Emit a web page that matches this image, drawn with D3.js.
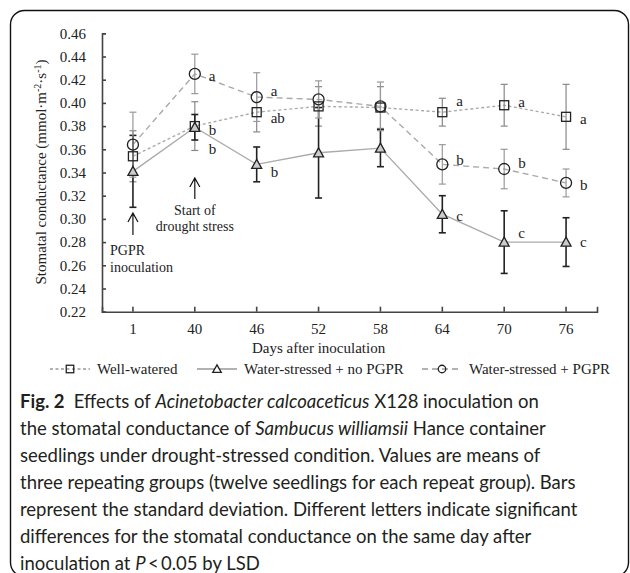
<!DOCTYPE html>
<html>
<head>
<meta charset="utf-8">
<script src="https://cdn.jsdelivr.net/npm/d3@7"></script>
<style>
  body { margin: 0; background: #fff; }
  svg { display: block; }
</style>
</head>
<body>
<script>
// days after inoculation (categories)
const days = ["1", "40", "46", "52", "58", "64", "70", "76"];

// means
const wellWatered     = [0.354, 0.380, 0.392, 0.397, 0.396, 0.392, 0.398, 0.388];
const stressedNoPGPR  = [0.341, 0.379, 0.347, 0.357, 0.361, 0.304, 0.280, 0.280];
const stressedPGPR    = [0.364, 0.425, 0.405, 0.403, 0.397, 0.347, 0.343, 0.331];

// standard deviations
const wellWateredSD    = [0.022, 0.021, 0.017, 0.017, 0.018, 0.012, 0.018, 0.028];
const stressedNoPGPRSD = [0.031, 0.011, 0.015, 0.039, 0.016, 0.016, 0.027, 0.021];
const stressedPGPRSD   = [0.028, 0.017, 0.021, 0.016, 0.021, 0.017, 0.017, 0.012];

// significance letters
const wellLetters   = ["", "b", "ab", "", "", "a", "a", "a"];
const noPGPRLetters = ["", "b", "b", "", "", "c", "c", "c"];
const pgprLetters   = ["", "a", "a", "", "", "b", "b", "b"];

const yTicks = [0.22, 0.24, 0.26, 0.28, 0.30, 0.32, 0.34, 0.36, 0.38, 0.40, 0.42, 0.44, 0.46];

// small vertical nudges so letters don't collide (px)
const wellNudge   = [0, 4, 6, 0, 0, -11, -3, 2];
const noPGPRNudge = [0, 21, 7, 0, 0, 1, -9, 0];
const pgprNudge   = [0, 2, -6, 0, 0, -5, -6, 2];

const W = 630, H = 573;
const serif = "'Liberation Serif', 'Times New Roman', serif";
const sans = "Lato, 'Open Sans', sans-serif";

const svg = d3.select("body").append("svg")
  .attr("width", W).attr("height", H);

// rounded frame
svg.append("rect")
  .attr("x", 10.5).attr("y", 10.5)
  .attr("width", 618).attr("height", 566)
  .attr("rx", 14)
  .attr("fill", "none")
  .attr("stroke", "#111")
  .attr("stroke-width", 1.4);

const x = d3.scaleBand().domain(days).range([102, 597]);
const y = d3.scaleLinear().domain([0.22, 0.46]).range([311.7, 33.3]);
const cx = d => x(d) + x.bandwidth() / 2;

// axes
const gx = svg.append("g")
  .attr("transform", "translate(0," + y(0.22) + ")")
  .call(d3.axisBottom(x).tickSizeInner(-5).tickSizeOuter(-5).tickPadding(12));
const gy = svg.append("g")
  .attr("transform", "translate(" + x.range()[0] + ",0)")
  .call(d3.axisLeft(y).tickValues(yTicks).tickFormat(d3.format(".2f"))
    .tickSizeInner(-4).tickSizeOuter(-4).tickPadding(16));

[gx, gy].forEach(g => {
  g.selectAll("path, line").attr("stroke", "#444").attr("stroke-width", 1.6);
  g.selectAll("text")
    .attr("font-family", serif)
    .attr("font-size", 15)
    .attr("fill", "#222");
});

// axis titles
svg.append("text")
  .attr("x", cx("52")).attr("y", 353)
  .attr("text-anchor", "middle")
  .attr("font-family", serif).attr("font-size", 15).attr("fill", "#222")
  .text("Days after inoculation");

const yt = svg.append("text")
  .attr("transform", "translate(46,172) rotate(-90)")
  .attr("text-anchor", "middle")
  .attr("font-family", serif).attr("font-size", 15).attr("fill", "#222");
yt.append("tspan").text("Stomatal conductance (mmol\u00b7m");
yt.append("tspan").attr("font-size", 10).attr("dy", -5).text("-2");
yt.append("tspan").attr("dy", 5).text("\u00b7s");
yt.append("tspan").attr("font-size", 10).attr("dy", -5).text("-1");
yt.append("tspan").attr("dy", 5).text(")");

const series = [
  { name: "Well-watered", vals: wellWatered, sd: wellWateredSD, letters: wellLetters, nudge: wellNudge,
    dash: "3,2.5", bar: "#888", shape: "square" },
  { name: "Water-stressed + no PGPR", vals: stressedNoPGPR, sd: stressedNoPGPRSD, letters: noPGPRLetters, nudge: noPGPRNudge,
    dash: null, bar: "#222", shape: "triangle" },
  { name: "Water-stressed + PGPR", vals: stressedPGPR, sd: stressedPGPRSD, letters: pgprLetters, nudge: pgprNudge,
    dash: "6,4", bar: "#999", shape: "circle" }
];

const line = d3.line().x(d => cx(d.day)).y(d => y(d.v));

// lines
series.forEach(s => {
  const pts = days.map((d, i) => ({ day: d, v: s.vals[i] }));
  svg.append("path")
    .datum(pts)
    .attr("d", line)
    .attr("fill", "none")
    .attr("stroke", "#aaa")
    .attr("stroke-width", 1.4)
    .attr("stroke-dasharray", s.dash);
});

// error bars
series.forEach(s => {
  const g = svg.append("g")
    .attr("stroke", s.bar)
    .attr("stroke-width", s.shape === "triangle" ? 1.6 : 1.2);
  days.forEach((d, i) => {
    const lo = y(s.vals[i] - s.sd[i]), hi = y(s.vals[i] + s.sd[i]), xx = cx(d);
    g.append("line").attr("x1", xx).attr("x2", xx).attr("y1", lo).attr("y2", hi);
    g.append("line").attr("x1", xx - 3.5).attr("x2", xx + 3.5).attr("y1", lo).attr("y2", lo);
    g.append("line").attr("x1", xx - 3.5).attr("x2", xx + 3.5).attr("y1", hi).attr("y2", hi);
  });
});

function marker(g, shape, px, py, size) {
  if (shape === "square") {
    g.append("rect")
      .attr("x", px - size / 2).attr("y", py - size / 2)
      .attr("width", size).attr("height", size)
      .attr("fill", "none").attr("stroke", "#222").attr("stroke-width", 1.3);
  } else if (shape === "circle") {
    g.append("circle")
      .attr("cx", px).attr("cy", py).attr("r", size / 2)
      .attr("fill", "none").attr("stroke", "#222").attr("stroke-width", 1.3);
  } else {
    const hw = size / 2 + 0.5;
    g.append("path")
      .attr("d", `M${px},${py - size * 0.55}L${px + hw},${py + size * 0.45}L${px - hw},${py + size * 0.45}Z`)
      .attr("fill", g.attr("data-fill") || "#ccc").attr("stroke", "#222").attr("stroke-width", 1.3);
  }
}

// markers + letters
series.forEach(s => {
  const g = svg.append("g");
  days.forEach((d, i) => marker(g, s.shape, cx(d), y(s.vals[i]), s.shape === "circle" ? 11 : 9));
  svg.append("g").selectAll("text")
    .data(days.map((d, i) => ({ d, i })).filter(o => s.letters[o.i]))
    .join("text")
    .attr("x", o => cx(o.d) + 14)
    .attr("y", o => y(s.vals[o.i]) + s.nudge[o.i])
    .attr("dy", "0.35em")
    .attr("font-family", serif).attr("font-size", 15).attr("fill", "#222")
    .text(o => s.letters[o.i]);
});

// annotations
function arrow(px, top, bottom) {
  svg.append("path")
    .attr("d", `M${px},${bottom}V${top}M${px - 5},${top + 9}L${px},${top}L${px + 5},${top + 9}`)
    .attr("fill", "none").attr("stroke", "#111").attr("stroke-width", 1.2);
}
arrow(cx("1"), 213, 235);
arrow(cx("40"), 178, 199);

const ann = svg.append("g")
  .attr("font-family", serif).attr("font-size", 14).attr("fill", "#222");
ann.append("text").attr("x", 110).attr("y", 255).text("PGPR");
ann.append("text").attr("x", 110).attr("y", 272).text("inoculation");
ann.append("text").attr("x", cx("40")).attr("y", 215).attr("text-anchor", "middle").text("Start of");
ann.append("text").attr("x", cx("40")).attr("y", 231).attr("text-anchor", "middle").text("drought stress");

// legend
const legendX = [50, 197, 422];
const leg = svg.append("g");
series.forEach((s, i) => {
  const lx = legendX[i], ly = 369;
  leg.append("line")
    .attr("x1", lx).attr("x2", lx + 40).attr("y1", ly).attr("y2", ly)
    .attr("stroke", "#999").attr("stroke-width", 1.3)
    .attr("stroke-dasharray", s.dash);
  const mg = leg.append("g").attr("data-fill", "#fff");
  marker(mg, s.shape, lx + 20, ly, 7.5);
  leg.append("text")
    .attr("x", lx + 47).attr("y", ly).attr("dy", "0.35em")
    .attr("font-family", serif).attr("font-size", 15).attr("fill", "#222")
    .text(s.name);
});

// caption
const capLines = [
  [["Fig. 2", "bold"], ["\u2002Effects of ", ""], ["Acinetobacter calcoaceticus", "italic"], [" X128 inoculation on", ""]],
  [["the stomatal conductance of ", ""], ["Sambucus williamsii", "italic"], [" Hance container", ""]],
  [["seedlings under drought-stressed condition. Values are means of", ""]],
  [["three repeating groups (twelve seedlings for each repeat group). Bars", ""]],
  [["represent the standard deviation. Different letters indicate significant", ""]],
  [["differences for the stomatal conductance on the same day after", ""]],
  [["inoculation at ", ""], ["P", "italic"], ["\u2009<\u20090.05 by LSD", ""]]
];
const cap = svg.append("g").attr("font-family", sans).attr("font-size", 18.5).attr("fill", "#231f20");
capLines.forEach((parts, i) => {
  const t = cap.append("text").attr("x", 20).attr("y", 408 + i * 27);
  parts.forEach(([txt, st]) => {
    const sp = t.append("tspan").text(txt);
    if (st === "bold") sp.attr("font-weight", "bold");
    if (st === "italic") sp.attr("font-style", "italic");
  });
});
</script>
</body>
</html>
